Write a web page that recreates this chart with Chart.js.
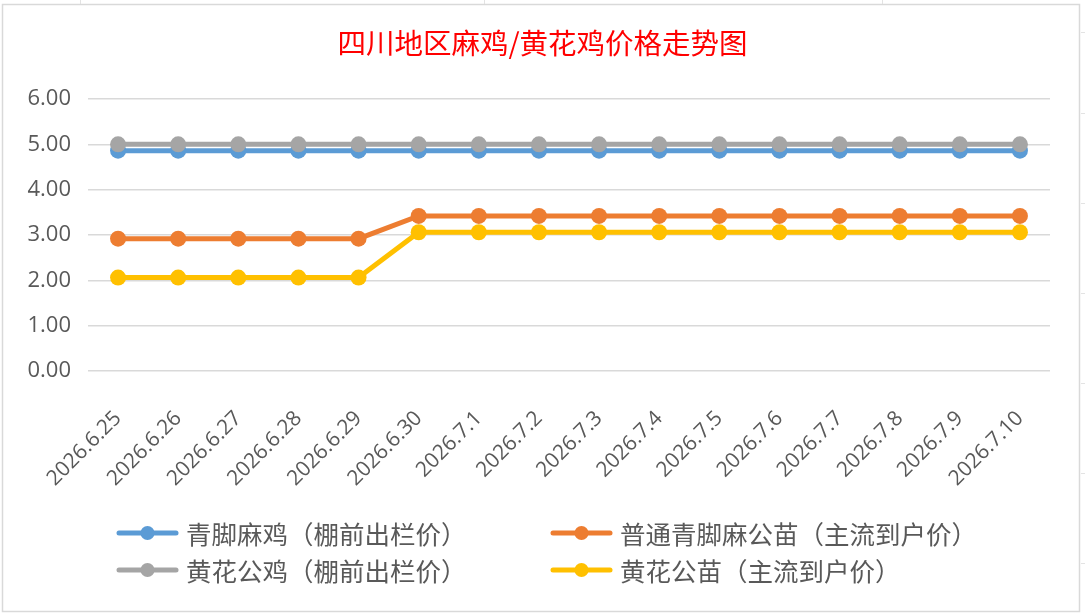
<!DOCTYPE html>
<html>
<head>
<meta charset="utf-8">
<script src="https://cdn.jsdelivr.net/npm/chart.js@4"></script>
<style>
  html, body { margin: 0; padding: 0; background: #ffffff; }
  #wrap { position: absolute; left: 0; top: 0; width: 1085px; height: 616px; }
</style>
</head>
<body>
<div id="wrap"><canvas id="c" width="1085" height="616"></canvas></div>
<script>
const titleText = '四川地区麻鸡/黄花鸡价格走势图';
const categories = ['2026.6.25','2026.6.26','2026.6.27','2026.6.28','2026.6.29','2026.6.30',
  '2026.7.1','2026.7.2','2026.7.3','2026.7.4','2026.7.5','2026.7.6','2026.7.7','2026.7.8','2026.7.9','2026.7.10'];
const seriesNames = ['青脚麻鸡（棚前出栏价）','普通青脚麻公苗（主流到户价）','黄花公鸡（棚前出栏价）','黄花公苗（主流到户价）'];
const qingjiaoMaji = [4.86,4.86,4.86,4.86,4.86,4.86,4.86,4.86,4.86,4.86,4.86,4.86,4.86,4.86,4.86,4.86];
const putongGongmiao = [2.92,2.92,2.92,2.92,2.92,3.42,3.42,3.42,3.42,3.42,3.42,3.42,3.42,3.42,3.42,3.42];
const huanghuaGongji = [5.00,5.00,5.00,5.00,5.00,5.00,5.00,5.00,5.00,5.00,5.00,5.00,5.00,5.00,5.00,5.00];
const huanghuaGongmiao = [2.06,2.06,2.06,2.06,2.06,3.06,3.06,3.06,3.06,3.06,3.06,3.06,3.06,3.06,3.06,3.06];
const yTicks = [0,1,2,3,4,5,6];

const colors = ['#5B9BD5','#ED7D31','#A5A5A5','#FFC000'];
const allSeries = [qingjiaoMaji, putongGongmiao, huanghuaGongji, huanghuaGongmiao];
const drawOrder = [4,3,2,1];

const datasets = allSeries.map((d,i)=>({
  label: seriesNames[i],
  data: d,
  borderColor: colors[i],
  backgroundColor: colors[i],
  borderWidth: 5,
  pointRadius: 8,
  pointHoverRadius: 8,
  pointBorderWidth: 0,
  pointBackgroundColor: colors[i],
  tension: 0,
  order: drawOrder[i]
}));

const frame = {
  id: 'frame',
  beforeDraw(chart){
    const ctx = chart.ctx;
    ctx.save();
    ctx.fillStyle = '#ffffff';
    ctx.fillRect(0,0,chart.width,chart.height);
    ctx.strokeStyle = '#e3e3e3';
    ctx.lineWidth = 1;
    ctx.beginPath();
    [80,484,882].forEach(x=>{ctx.moveTo(x+0.5,0);ctx.lineTo(x+0.5,4);});
    [32,113,203,293,383,473,563].forEach(y=>{ctx.moveTo(1081,y+0.5);ctx.lineTo(1085,y+0.5);});
    ctx.stroke();
    ctx.strokeStyle = '#d9d9d9';
    ctx.lineWidth = 1.5;
    ctx.strokeRect(2.5,4.5,1077,607);
    ctx.fillStyle = '#FF0000';
    ctx.font = '28.5px "Noto Sans CJK SC", sans-serif';
    ctx.textAlign = 'center';
    ctx.textBaseline = 'middle';
    ctx.fillText(titleText, 542.5, 43);
    ctx.restore();
  }
};

const customLegend = {
  id: 'customLegend',
  afterDraw(chart){
    const ctx = chart.ctx;
    const cols = [117, 551];
    const rows = [533, 570];
    ctx.save();
    ctx.font = '25.5px "Noto Sans CJK SC", sans-serif';
    ctx.textBaseline = 'middle';
    ctx.textAlign = 'left';
    seriesNames.forEach((name,i)=>{
      const x = cols[i%2], y = rows[Math.floor(i/2)];
      ctx.strokeStyle = colors[i];
      ctx.lineWidth = 5;
      ctx.lineCap = 'round';
      ctx.beginPath(); ctx.moveTo(x+2,y); ctx.lineTo(x+59,y); ctx.stroke();
      ctx.fillStyle = colors[i];
      ctx.beginPath(); ctx.arc(x+30.5,y,7,0,Math.PI*2); ctx.fill();
      ctx.fillStyle = '#595959';
      ctx.fillText(name, x+69, y+1);
    });
    ctx.restore();
  }
};

new Chart(document.getElementById('c'), {
  type: 'line',
  data: { labels: categories, datasets },
  options: {
    responsive: false,
    animation: false,
    layout: { padding: { left: 18, right: 35, top: 99, bottom: 130 } },
    plugins: {
      legend: { display: false },
      tooltip: { enabled: false },
      title: { display: false }
    },
    scales: {
      x: {
        offset: true,
        grid: { display: false, drawTicks: false },
        border: { display: false },
        ticks: {
          color: '#595959',
          font: { family: '"Open Sans", sans-serif', size: 21 },
          minRotation: 45, maxRotation: 45,
          padding: 35,
          autoSkip: false
        },
        afterFit(s){ s.height = 115; }
      },
      y: {
        min: 0, max: 6,
        afterBuildTicks(s){ s.ticks = yTicks.map(v=>({value:v})); },
        grid: { color: '#d9d9d9', lineWidth: 1.5, drawTicks: false },
        border: { display: false },
        ticks: {
          color: '#595959',
          font: { family: '"Open Sans", sans-serif', size: 22 },
          padding: 17,
          callback: v => Number(v).toFixed(2)
        },
        afterFit(s){ s.width = 70; }
      }
    }
  },
  plugins: [frame, customLegend]
});
</script>
</body>
</html>
